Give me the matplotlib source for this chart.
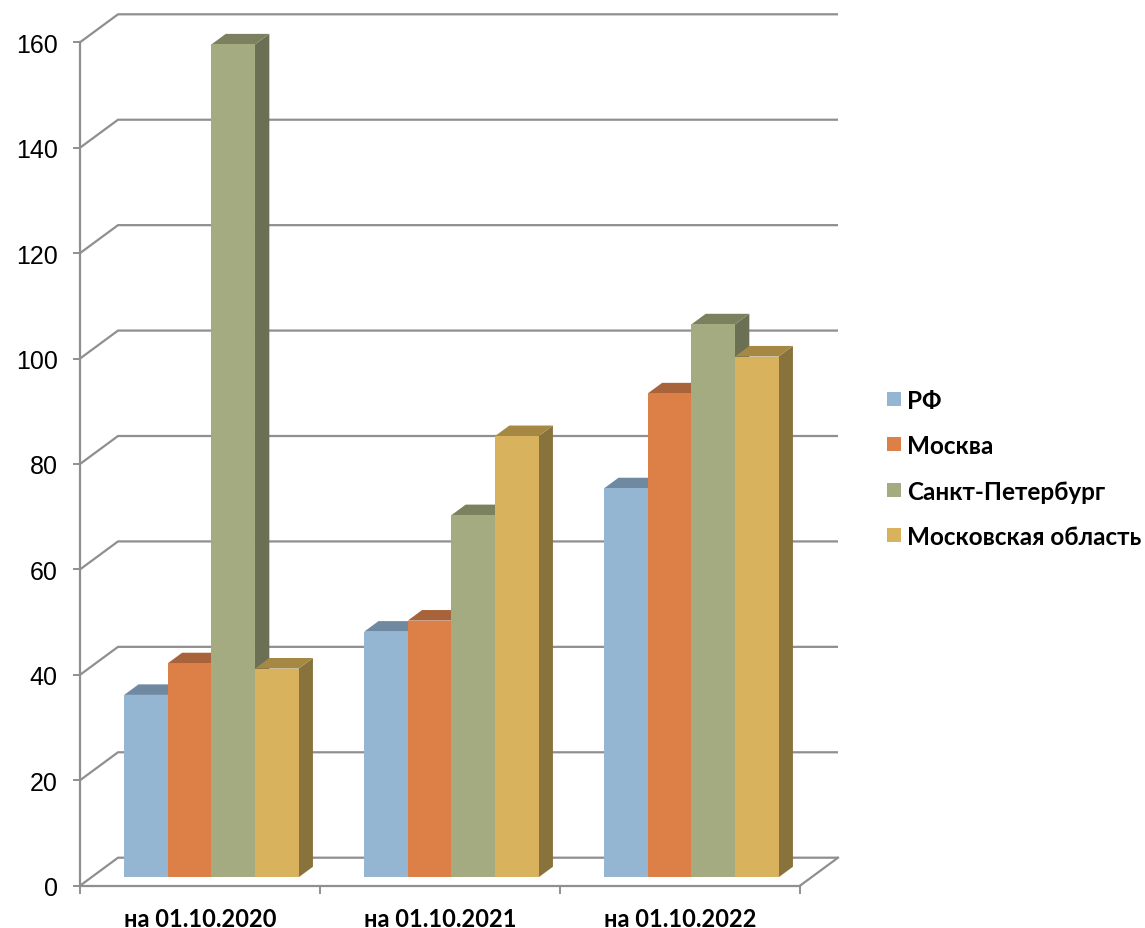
import matplotlib
matplotlib.use("Agg")
import matplotlib.pyplot as plt
from matplotlib import font_manager, ft2font
from matplotlib.patches import Rectangle

# ---------------- data ----------------
categories = ['на 01.10.2020', 'на 01.10.2021', 'на 01.10.2022']
series_names = ['РФ', 'Москва', 'Санкт-Петербург', 'Московская область']
rf = [34.6, 46.6, 73.8]
moscow = [40.6, 48.7, 91.8]
spb = [158.0, 68.7, 104.9]
mo_obl = [39.6, 83.7, 98.8]
y_ticks = [0, 20, 40, 60, 80, 100, 120, 140, 160]

series_values = [rf, moscow, spb, mo_obl]
front_colors = ['#94B6D3', '#DD8047', '#A5AB81', '#D8B25D']
top_colors = ['#7089A3', '#A9633A', '#7C805F', '#A68845']
side_colors = ['#6C84A0', '#A45E35', '#6B6F53', '#89733C']


def pick_font(cands, weight='bold'):
    for name in cands:
        try:
            path = font_manager.findfont(font_manager.FontProperties(family=name, weight=weight),
                                         fallback_to_default=False)
            f = ft2font.FT2Font(path)
            if ord('ф') in f.get_charmap():
                return name
        except Exception:
            pass
    return 'DejaVu Sans'


bold_font = pick_font(['Lato', 'Open Sans', 'Noto Sans'])
num_font = 'Liberation Sans'

W, H = 1145, 929
fig = plt.figure(figsize=(W / 100, H / 100), dpi=100)
fig.patch.set_facecolor('white')

# front plane of axes: x from -0.5..2.5 (categories), y 0..160
ax = fig.add_axes([80 / W, 42.3 / H, 720 / W, 843.4 / H])
ax.set_xlim(-0.5, len(categories) - 0.5)
ax.set_ylim(0, 160)
ax.patch.set_alpha(0)

# depth offsets (in data units) for the full floor depth
DX = 38 / 240.0
DY = 28 / (843.4 / 160)

grid_color = '#8F8F8F'
x0, x1 = -0.5, len(categories) - 0.5
for v in y_ticks:
    ax.plot([x0, x0 + DX, x1 + DX], [v, v + DY, v + DY], color=grid_color, lw=1.6,
            clip_on=False, zorder=1, solid_capstyle='butt')
# floor right edge
ax.plot([x1, x1 + DX], [0, DY], color=grid_color, lw=1.6, clip_on=False, zorder=1)

# bars
n_series = len(series_values)
bar_w = 0.1817
d_front, d_back = 0.30, 0.677
bd = d_back - d_front
z = 3
for ci in range(len(categories)):
    group_left = ci - n_series * bar_w / 2 + d_front * DX
    base = d_front * DY
    for si in range(n_series):
        v = series_values[si][ci]
        xl = group_left + si * bar_w
        xr = xl + bar_w
        top = base + v
        ox, oy = bd * DX, bd * DY
        # side face
        ax.fill([xr, xr + ox, xr + ox, xr], [base, base + oy, top + oy, top],
                color=side_colors[si], lw=0, zorder=z, clip_on=False)
        # top face
        ax.fill([xl, xr, xr + ox, xl + ox], [top, top, top + oy, top + oy],
                color=top_colors[si], lw=0, zorder=z, clip_on=False)
        # front face
        ax.fill([xl, xr, xr, xl], [base, base, top, top],
                color=front_colors[si], lw=0, zorder=z, clip_on=False)
        z += 1

# axes spines / ticks
for s in ['top', 'right']:
    ax.spines[s].set_visible(False)
for s in ['left', 'bottom']:
    ax.spines[s].set_color(grid_color)
    ax.spines[s].set_linewidth(1.6)
    ax.spines[s].set_zorder(2)

ax.set_yticks(y_ticks)
ax.set_yticklabels([str(t) for t in y_ticks], fontsize=18, family=num_font)
ax.tick_params(axis='y', direction='out', length=5, width=1.4, color=grid_color, pad=11)

ax.set_xticks(range(len(categories)))
ax.set_xticklabels(categories, fontsize=17, fontweight='bold', family=bold_font)
ax.tick_params(axis='x', which='major', length=0, pad=15)
ax.set_xticks([i - 0.5 for i in range(len(categories) + 1)], minor=True)
ax.tick_params(axis='x', which='minor', direction='out', length=6, width=1.4, color=grid_color)

# legend (manual)
leg_y = [400, 445.3, 490.6, 535.9]
for si, name in enumerate(series_names):
    yc = leg_y[si]
    fig.patches.append(Rectangle((887 / W, (H - yc - 7) / H), 14 / W, 14 / H,
                                 transform=fig.transFigure, facecolor=front_colors[si],
                                 edgecolor='none'))
    fig.text(907 / W, (H - yc - 1.5) / H, name, fontsize=17.5, fontweight='bold',
             family=bold_font, va='center', ha='left')

fig.savefig('out.png', dpi=100, facecolor='white')
